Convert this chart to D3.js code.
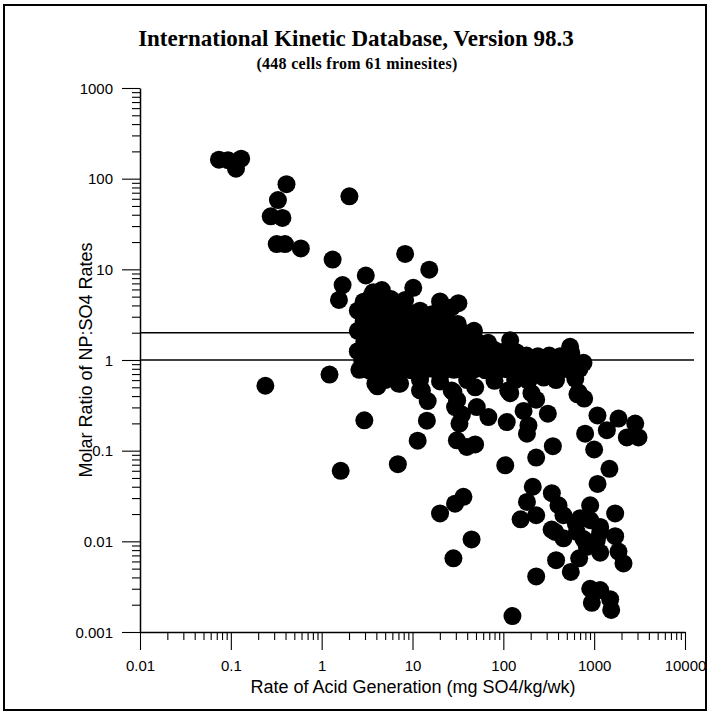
<!DOCTYPE html>
<html>
<head>
<meta charset="utf-8">
<script src="https://cdn.jsdelivr.net/npm/d3@7"></script>
<style>
  html, body { margin: 0; padding: 0; background: #fff; }
  svg { display: block; }
</style>
</head>
<body>
<div id="chart"></div>
<script>
// ---- Data ----
const titleText = "International Kinetic Database, Version 98.3";
const subtitleText = "(448 cells from 61 minesites)";
const xLabel = "Rate of Acid Generation (mg SO4/kg/wk)";
const yLabel = "Molar Ratio of NP:SO4 Rates";

const xTickLabels = ["0.01", "0.1", "1", "10", "100", "1000", "10000"];
const yTickLabels = ["0.001", "0.01", "0.1", "1", "10", "100", "1000"];
const referenceLines = [1, 2];

// [rate of acid generation, molar ratio]
const pointsUpperLeft = [
  [0.074, 162], [0.093, 160], [0.13, 166], [0.114, 129],
  [0.41, 87], [0.33, 58], [0.275, 38.4], [0.37, 36.9],
  [0.32, 19], [0.395, 19], [0.59, 17], [1.32, 12.8],
  [1.7, 6.7], [1.55, 4.6], [2.02, 63.8], [8.3, 14.8],
  [15.3, 9.9], [3.06, 8.55], [10.2, 6.25], [20.1, 4.42],
  [32, 4.23], [0.24, 0.52], [1.22, 0.69]
];

const pointsBand = [
  [2.9, 4.4], [3.5, 5.0], [3.7, 5.6], [4.6, 5.9], [5.8, 4.7], [8.3, 4.6], [6.6, 4.0], [4.2, 3.9],
  [2.5, 3.5], [3.2, 3.3], [4.2, 3.7], [5.4, 3.4], [6.9, 3.6], [9.4, 3.3], [12.1, 3.5], [16.4, 3.2], [22.9, 3.6], [27, 3.8],
  [2.9, 2.7], [3.7, 2.8], [4.9, 2.6], [6.4, 2.9], [8.3, 2.7], [10.7, 2.6], [13.8, 2.8], [18.2, 2.7], [24.6, 2.6], [31.5, 2.5],
  [2.5, 2.1], [3.2, 2.2], [4.2, 2.0], [5.5, 2.1], [7.3, 2.2], [9.4, 2.0], [12.4, 2.1], [16.4, 2.2], [21.5, 2.0], [27.8, 2.1], [36.2, 2.0], [47.5, 2.1],
  [2.95, 1.6], [3.7, 1.7], [4.7, 1.65], [6.3, 1.6], [8.1, 1.7], [10.7, 1.62], [14.1, 1.68], [18.6, 1.6], [24.6, 1.7], [31.6, 1.65], [40.8, 1.6], [54, 1.55], [68, 1.55], [119, 1.65],
  [2.5, 1.25], [3.2, 1.3], [4.2, 1.28], [5.4, 1.32], [7.0, 1.25], [9.4, 1.3], [12.1, 1.27], [15.9, 1.33], [21, 1.26], [26.9, 1.3], [35.6, 1.28], [46.2, 1.33], [61, 1.27], [79, 1.3], [105, 1.25], [139, 1.22], [180, 1.12], [240, 1.1], [320, 1.12], [422, 1.1], [544, 1.4], [560, 1.2],
  [2.8, 0.98], [3.6, 1.02], [4.8, 0.97], [6.1, 1.03], [8.1, 0.99], [10.4, 1.01], [13.8, 0.96], [17.7, 1.04], [23, 0.98], [29.8, 1.02], [39.6, 0.97], [51.2, 1.03], [68, 0.99], [88, 1.02], [115, 0.97], [153, 1.01], [197, 0.98], [258, 1.0], [335, 0.97], [435, 1.0], [580, 0.98], [763, 0.93],
  [2.6, 0.78], [3.4, 0.76], [4.5, 0.8], [5.8, 0.75], [7.6, 0.79], [9.7, 0.77], [12.8, 0.74], [16.6, 0.8], [21.9, 0.76], [28.6, 0.78], [37.6, 0.75], [48, 0.79], [63.5, 0.77], [83, 0.74], [109, 0.79], [142, 0.76], [186, 0.78], [245, 0.75], [320, 0.79], [412, 0.76], [540, 0.78], [690, 0.8],
  [5.0, 0.6], [6.9, 0.62], [12.1, 0.6], [20.1, 0.58], [40, 0.6], [80, 0.59], [135, 0.6], [189, 0.59], [278, 0.64], [380, 0.6], [620, 0.62],
  [3.9, 0.55], [7.0, 0.55], [12.7, 0.46], [27, 0.46], [49, 0.5], [113, 0.46], [204, 0.43], [673, 0.44], [2.88, 0.80]
];

const pointsLowerMiddle = [
  [2.95, 0.216], [1.62, 0.06], [6.9, 0.071], [11.4, 0.129], [14.4, 0.214], [14.7, 0.352],
  [4.11, 0.512], [7.3, 0.548], [12.1, 0.462], [28.2, 0.443], [29.4, 0.303], [32.9, 0.199],
  [30.8, 0.13], [39.6, 0.11], [48.9, 0.117], [51, 0.303], [68.5, 0.235], [31, 0.36], [35, 0.25],
  [119, 0.43], [109, 0.207], [105, 0.069], [36.4, 0.031], [29.4, 0.026], [20.1, 0.0203],
  [44.7, 0.0105], [28.2, 0.0065], [126, 0.0015], [155, 0.0175]
];

const pointsLowerRight = [
  [230, 0.365], [655, 0.418], [776, 0.375], [167, 0.274], [309, 0.256], [189, 0.19],
  [182, 0.154], [1087, 0.245], [1853, 0.226], [2831, 0.199], [1380, 0.168], [795, 0.154],
  [2290, 0.14], [3076, 0.14], [351, 0.112], [1000, 0.103], [230, 0.084], [1472, 0.063],
  [211, 0.04], [342, 0.034], [1090, 0.043],
  [182, 0.0272], [230, 0.0194], [405, 0.025], [459, 0.0194], [372, 0.0127], [459, 0.0108],
  [644, 0.0127], [904, 0.025], [904, 0.0171], [1165, 0.0144], [1703, 0.0203], [1703, 0.0114],
  [1069, 0.0103], [830, 0.0087], [1853, 0.0077], [2103, 0.0057], [1165, 0.0075], [684, 0.0065],
  [381, 0.0062], [553, 0.0046], [904, 0.003], [1165, 0.0029], [942, 0.0021], [1500, 0.0023],
  [1540, 0.00175], [230, 0.0041], [627, 0.0157], [340, 0.0135], [700, 0.018], [1165, 0.0127],
  [763, 0.0106]
];

// ---- Layout ----
const W = 709, H = 713;
const plot = { left: 140, right: 685, top: 88, bottom: 632 };

const svg = d3.select("#chart").append("svg")
  .attr("width", W).attr("height", H);

svg.append("rect").attr("x", 0).attr("y", 0).attr("width", W).attr("height", H).attr("fill", "#fff");

// outer frame
svg.append("rect")
  .attr("x", 4).attr("y", 5).attr("width", 702).attr("height", 705)
  .attr("fill", "none").attr("stroke", "#000").attr("stroke-width", 2);

const x = d3.scaleLog().domain([0.01, 10000]).range([plot.left, plot.right]);
const y = d3.scaleLog().domain([0.001, 1000]).range([plot.bottom, plot.top]);

function logTicks(lo, hi) {
  const out = [];
  for (let e = Math.log10(lo); e <= Math.log10(hi); e++) {
    for (let m = 1; m <= 9; m++) {
      const v = m * Math.pow(10, e);
      if (v <= hi * 1.0001) out.push({ v, major: m === 1 });
    }
  }
  return out;
}
const xTicks = logTicks(0.01, 10000);
const yTicks = logTicks(0.001, 1000);
const xMajors = xTicks.filter(t => t.major).map(t => t.v);
const yMajors = yTicks.filter(t => t.major).map(t => t.v);

// ---- X axis ----
const xAxis = d3.axisBottom(x)
  .tickValues(xTicks.map(d => d.v))
  .tickSize(8).tickSizeOuter(0)
  .tickFormat((d, i) => xTicks[i].major ? xTickLabels[xMajors.indexOf(d)] : "");
const gx = svg.append("g").attr("transform", `translate(0,${plot.bottom})`).call(xAxis);
gx.selectAll(".tick line").attr("y2", (d, i) => xTicks[i].major ? 18 : 8);
gx.selectAll(".tick text").attr("y", 28).attr("dy", "0.71em")
  .style("font-family", "Arial, 'Liberation Sans', sans-serif").style("font-size", "15px").attr("fill", "#000");

// ---- Y axis ----
const yAxis = d3.axisLeft(y)
  .tickValues(yTicks.map(d => d.v))
  .tickSize(8).tickSizeOuter(0)
  .tickFormat((d, i) => yTicks[i].major ? yTickLabels[yMajors.indexOf(d)] : "");
const gy = svg.append("g").attr("transform", `translate(${plot.left},0)`).call(yAxis);
gy.selectAll(".tick line").attr("x2", (d, i) => yTicks[i].major ? -18 : -8);
gy.selectAll(".tick text").attr("x", -27).attr("dy", "0.34em")
  .style("font-family", "Arial, 'Liberation Sans', sans-serif").style("font-size", "15px").attr("fill", "#000");

[gx, gy].forEach(g => {
  g.select(".domain").attr("stroke", "#000").attr("stroke-width", 1.5);
  g.selectAll(".tick line").attr("stroke", "#000").attr("stroke-width", 1.1);
});

// ---- Reference lines ----
svg.append("g").selectAll("line").data(referenceLines).join("line")
  .attr("x1", plot.left).attr("x2", 694)
  .attr("y1", d => y(d)).attr("y2", d => y(d))
  .attr("stroke", "#000").attr("stroke-width", 1.5);

// ---- Points ----
const allPoints = [].concat(pointsUpperLeft, pointsBand, pointsLowerMiddle, pointsLowerRight);
svg.append("g").selectAll("circle").data(allPoints).join("circle")
  .attr("cx", d => x(d[0])).attr("cy", d => y(d[1]))
  .attr("r", 9).attr("fill", "#000");

// ---- Titles ----
svg.append("text").attr("x", 356).attr("y", 46).attr("text-anchor", "middle")
  .style("font-family", "'Times New Roman', 'Liberation Serif', serif")
  .style("font-weight", "bold").style("font-size", "23px").text(titleText);
svg.append("text").attr("x", 357).attr("y", 69).attr("text-anchor", "middle")
  .style("font-family", "'Times New Roman', 'Liberation Serif', serif")
  .style("font-weight", "bold").style("font-size", "16px").style("letter-spacing", "0.3px").text(subtitleText);

svg.append("text").attr("x", 413).attr("y", 693).attr("text-anchor", "middle")
  .style("font-family", "Arial, 'Liberation Sans', sans-serif").style("font-size", "18px")
  .text(xLabel);
svg.append("text").attr("transform", `translate(92,${(plot.top + plot.bottom) / 2}) rotate(-90)`)
  .attr("text-anchor", "middle")
  .style("font-family", "Arial, 'Liberation Sans', sans-serif").style("font-size", "18px")
  .text(yLabel);
</script>
</body>
</html>
